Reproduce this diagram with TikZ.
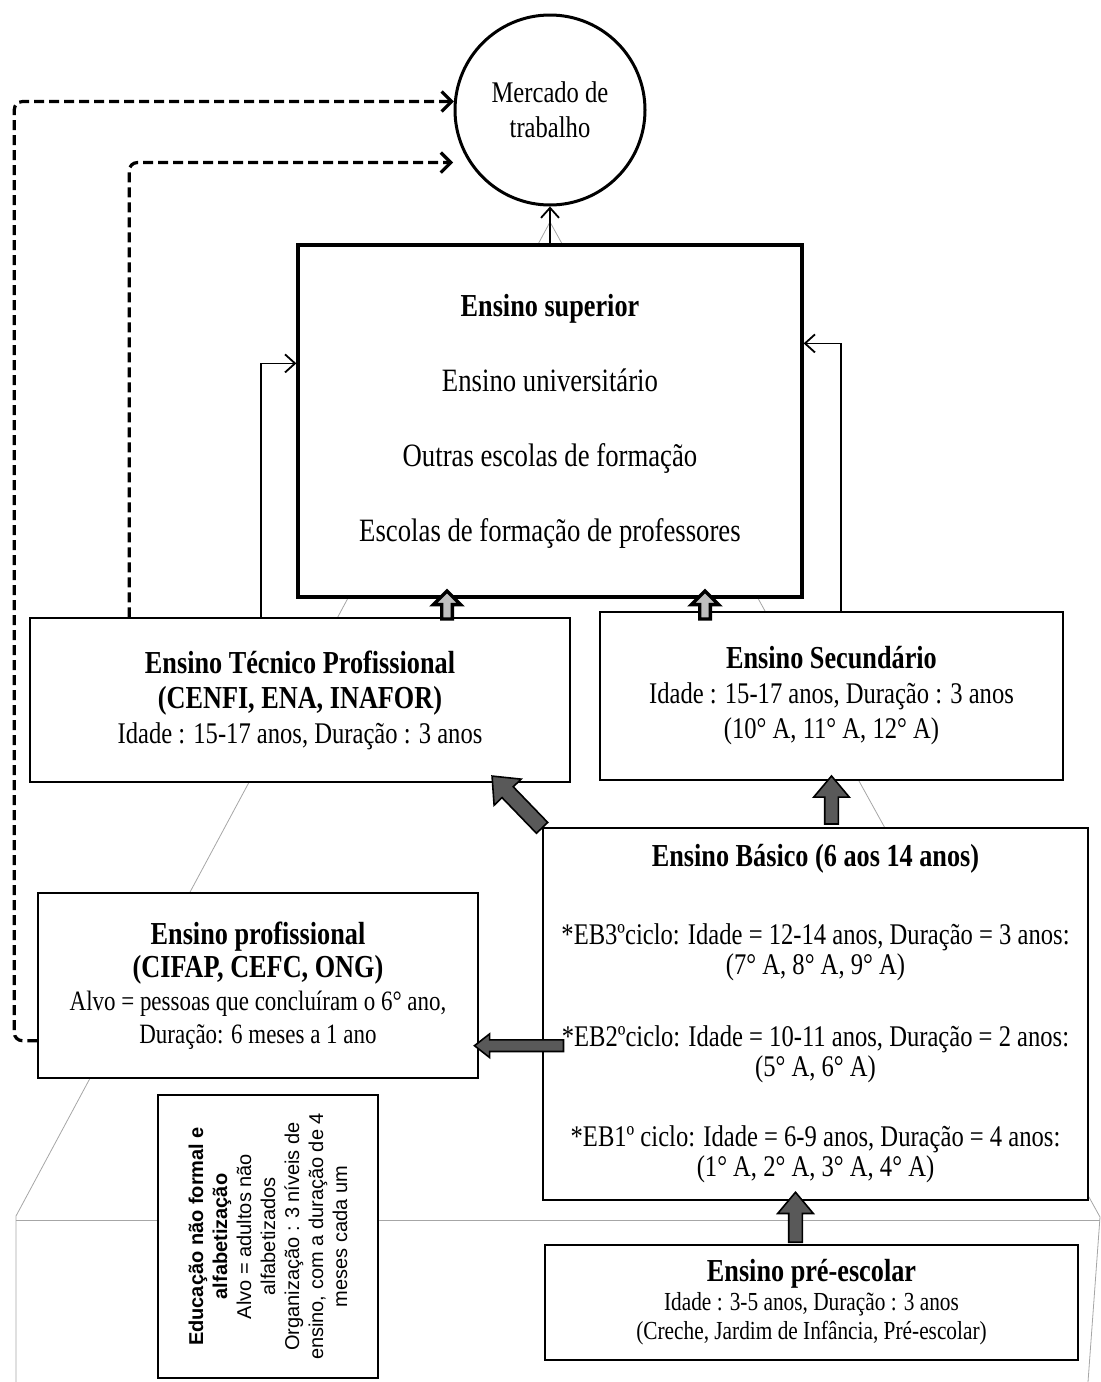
\documentclass[tikz,border=0pt]{standalone}
\usepackage{fontspec}
\setmainfont[FakeStretch=0.82]{Liberation Serif}
\newfontfamily\boxsans{Liberation Sans}
\usetikzlibrary{positioning,calc,arrows.meta,shapes.arrows}
\newcommand\boxtitle[1]{{\fontsize{16}{18}\selectfont\bfseries #1}}

\begin{document}
\begin{tikzpicture}[x=0.5pt, y=-0.5pt,
  level/.style={draw, fill=white, line width=0.7pt, align=center, inner sep=0pt,
    font=\fontsize{15}{17.5}\selectfont},
  link/.style={line width=0.9pt, -{Straight Barb[length=5pt,width=9pt]}},
  jobpath/.style={line width=1.6pt, dash pattern=on 5pt off 2.5pt, rounded corners=4pt,
    -{Straight Barb[length=5pt,width=10pt,line width=1.6pt]}},
  bigarrow/.style={single arrow, draw=black, fill=black!65, line width=0.8pt,
    inner sep=3pt, single arrow head extend=5.5pt, single arrow tip angle=80,
    minimum height=24pt},
  smallarrow/.style={single arrow, draw=black, fill=black!25, line width=1.7pt,
    inner sep=1.8pt, single arrow head extend=4.2pt, single arrow tip angle=90,
    minimum height=14pt},
  ghost/.style={black!35, line width=0.4pt}]
\useasboundingbox (0,0) rectangle (1101,1382);

% Faint pyramid behind the levels
\draw [ghost] (16,1382) -- (16,1216) -- (550,222) -- (1100,1217) -- (1088,1382);
\draw [ghost] (16,1220) -- (1100,1220);

% Labour market and the levels
\node [circle, draw, fill=white, line width=1.5pt, minimum size=95pt, inner sep=0pt,
  align=center, font=\fontsize{15}{17.5}\selectfont] (merc) at (550,110)
  {Mercado de\\trabalho};
\node [level, line width=1.6pt, minimum width=252pt, minimum height=176pt,
  font=\fontsize{16.3}{37.5}\selectfont] (sup) at (550,421)
  {\boxtitle{Ensino superior}\\ Ensino universitário\\ Outras escolas de formação\\
   Escolas de formação de professores};
\node [level, minimum width=270pt, minimum height=82pt] (tec) at (300,700)
  {\boxtitle{Ensino Técnico Profissional}\\ \boxtitle{(CENFI, ENA, INAFOR)}\\
   Idade : 15-17 anos, Duração : 3 anos};
\node [level, minimum width=231.5pt, minimum height=84pt] (sec) at (831.5,696)
  {\boxtitle{Ensino Secundário}\\ Idade : 15-17 anos, Duração : 3 anos\\
   (10° A, 11° A, 12° A)};
\node [level, minimum width=272.5pt, minimum height=186pt,
  font=\fontsize{15}{15}\selectfont] (bas) at (815.5,1014)
  {\boxtitle{Ensino Básico (6 aos 14 anos)}\\[24pt]
   *EB3ºciclo: Idade = 12-14 anos, Duração = 3 anos:\\ (7° A, 8° A, 9° A)\\[21pt]
   *EB2ºciclo: Idade = 10-11 anos, Duração = 2 anos:\\ (5° A, 6° A)\\[20pt]
   *EB1º ciclo: Idade = 6-9 anos, Duração = 4 anos:\\ (1° A, 2° A, 3° A, 4° A)};
\node [level, minimum width=220pt, minimum height=92.5pt,
  font=\fontsize{14}{16.5}\selectfont] (prof) at (258,985.5)
  {\boxtitle{Ensino profissional}\\ \boxtitle{(CIFAP, CEFC, ONG)}\\
   Alvo = pessoas que concluíram o 6° ano,\\ Duração: 6 meses a 1 ano};
\node [level, rotate=90, minimum width=141.5pt, minimum height=110pt,
  font=\boxsans\fontsize{10}{12}\selectfont] (nf) at (268,1236.5)
  {\textbf{Educação não formal e}\\ \textbf{alfabetização}\\ Alvo = adultos não\\
   alfabetizados\\ Organização : 3 níveis de\\ ensino, com a duração de 4\\ meses cada um};
\node [level, minimum width=266.5pt, minimum height=57.5pt,
  font=\fontsize{13}{14.5}\selectfont] (pre) at (811.5,1302.5)
  {\boxtitle{Ensino pré-escolar}\\ Idade : 3-5 anos, Duração : 3 anos\\
   (Creche, Jardim de Infância, Pré-escolar)};

% Thin links into higher education and the market
\draw [link] (sup.north) -- (merc.south);
\draw [link] ($(tec.north west)+(232,0)$) |- ($(sup.north west)+(0,120)$);
\draw [link] ($(sec.north east)+(-223,0)$) |- ($(sup.north east)+(0,100)$);

% Dashed exits to the labour market
\draw [jobpath] ($(prof.south west)+(0,-38)$) -- ++(-23,0) |- (merc.175);
\draw [jobpath, shorten >=8pt] ($(tec.north west)+(100,0)$) |- (merc.213);

% Block arrows between levels
\node [smallarrow, rotate=90] (up1) at ($(sup.south)+(-103,9)$) {};
\node [smallarrow, rotate=90] (up2) at ($(sup.south)+(155,9)$) {};
\node [bigarrow, rotate=90] (up3) at ($(sec.south)!0.5!(sec.south |- bas.north)$) {};
\node [bigarrow, rotate=134, minimum height=36pt, inner sep=3.5pt] (diag)
  at ($(bas.north west)+(-22,-22)$) {};
\node [bigarrow, rotate=180, minimum height=44.5pt, inner sep=2.5pt,
  single arrow head extend=3pt, single arrow tip angle=76] (left)
  at ($(prof.south east)+(44,-33)$) {};
\node [bigarrow, rotate=90, minimum height=25pt] (up4) at ($(pre.north)+(-16,-23)$) {};
\end{tikzpicture}
\end{document}
